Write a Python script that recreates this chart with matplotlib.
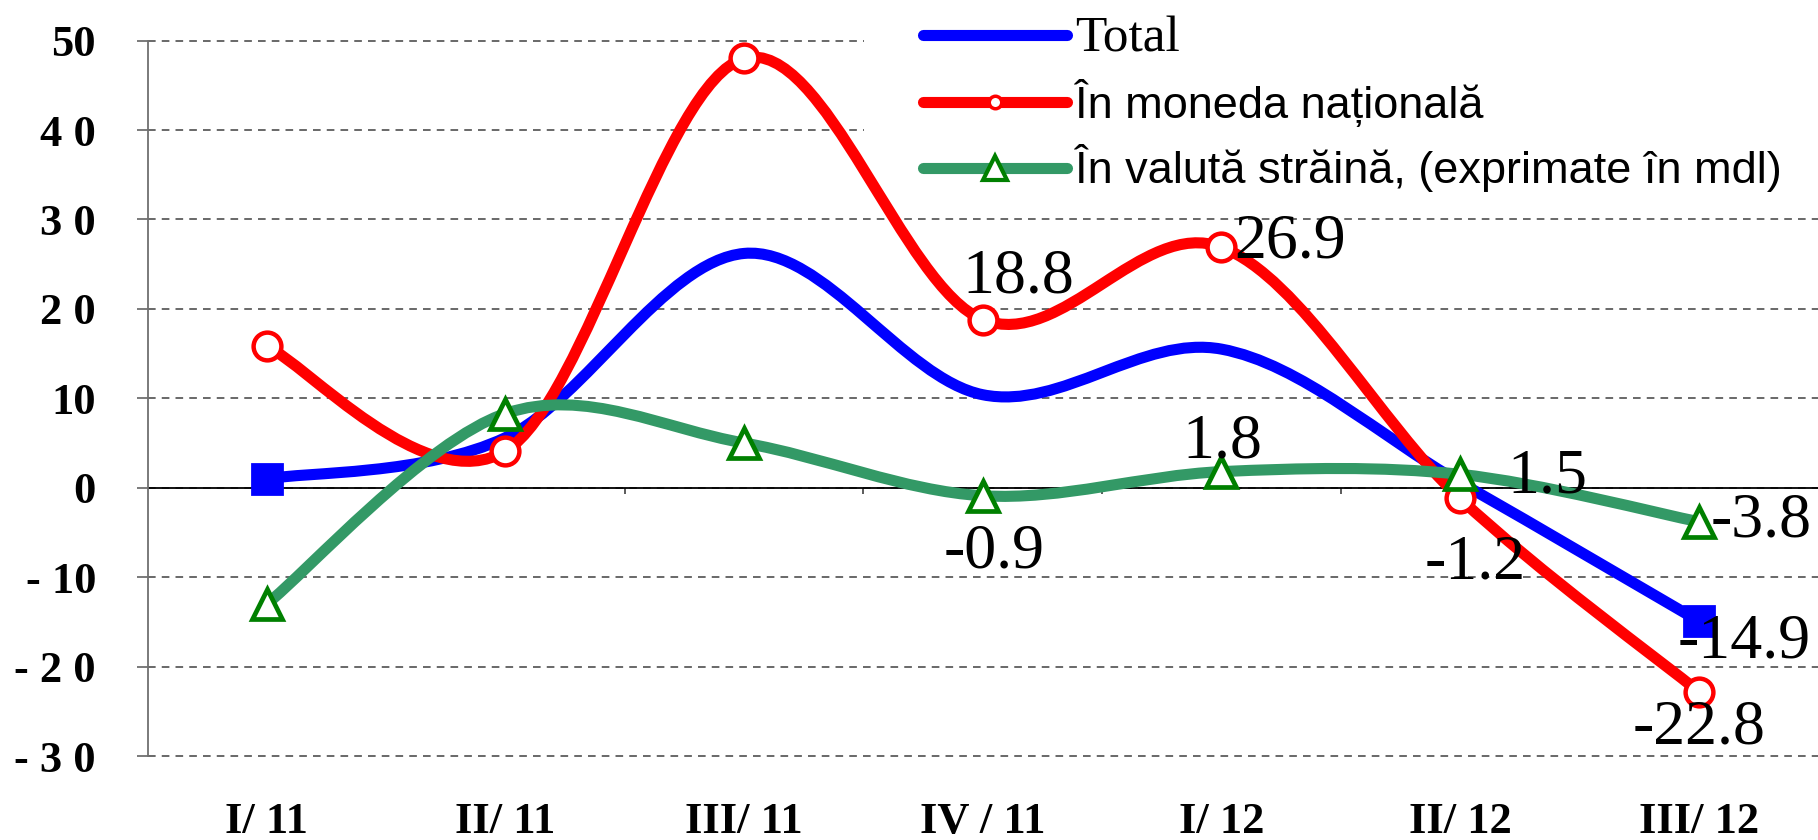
import numpy as np
import matplotlib
matplotlib.use("Agg")
import matplotlib.pyplot as plt
from matplotlib.path import Path
from matplotlib.patches import PathPatch, Rectangle
from matplotlib.lines import Line2D
from matplotlib.font_manager import FontProperties

# ---------------- data ----------------
quarters = ["I/ 11", "II/ 11", "III/ 11", "IV / 11", "I/ 12", "II/ 12", "III/ 12"]
total = [1.0, 5.6, 26.2, 10.4, 15.5, 0.6, -14.9]
national = [15.8, 4.1, 48.0, 18.8, 26.9, -1.2, -22.8]
foreign = [-13.0, 8.3, 5.0, -0.9, 1.8, 1.5, -3.8]
series_names = ["Total", "În moneda națională", "În valută străină, (exprimate în mdl)"]
ytick_values = [-30, -20, -10, 0, 10, 20, 30, 40, 50]
ytick_labels = ["- 3 0", "- 2 0", "- 10", "0", "10", "2 0", "3 0", "4 0", "50"]

BLUE = "#0000FF"
RED = "#FF0000"
SEA = "#339966"
DKGREEN = "#008000"

plt.rcParams["font.family"] = ["Liberation Serif", "DejaVu Serif"]

W, H = 1818, 840
fig = plt.figure(figsize=(W / 100, H / 100), dpi=100)
left = 147.5 / W
bottom = 1 - 756 / H
top = 1 - 40.6 / H
ax = fig.add_axes([left, bottom, 1 - left, top - bottom])

x = np.arange(len(quarters))


def smooth_path(xs, ys):
    """Excel-style smoothed line: Bezier segments with Catmull-Rom control points."""
    P = np.column_stack([xs, ys]).astype(float)
    n = len(P)
    verts = [P[0]]
    codes = [Path.MOVETO]
    for i in range(n - 1):
        p0 = P[max(i - 1, 0)]
        p1 = P[i]
        p2 = P[i + 1]
        p3 = P[min(i + 2, n - 1)]
        c1 = p1 + (p2 - p0) / 6.0
        c2 = p2 - (p3 - p1) / 6.0
        verts += [c1, c2, p2]
        codes += [Path.CURVE4] * 3
    return Path(verts, codes)


LW = 8
for vals, col, z in [(total, BLUE, 3), (national, RED, 4), (foreign, SEA, 5)]:
    patch = PathPatch(smooth_path(x, vals), facecolor="none", edgecolor=col,
                      lw=LW, capstyle="round", joinstyle="round", zorder=z)
    ax.add_patch(patch)

# markers
ax.plot(x, total, linestyle="none", marker="s", ms=22, mfc=BLUE, mec=BLUE,
        mew=2, markevery=[0, len(x) - 1], zorder=3.5)
ax.plot(x, national, linestyle="none", marker="o", ms=20, mfc="white", mec=RED,
        mew=3.2, zorder=4.5)
ax.plot(x, foreign, linestyle="none", marker="^", ms=22, mfc="white", mec=DKGREEN,
        mew=3.4, zorder=5.5)

# data labels: (series values, index, ha, dx px, dy px)
label_specs = [
    (national, 3, "center", 35, 27.6),
    (national, 4, "left", 13, -10),
    (foreign, 4, "center", 1, 14.6),
    (foreign, 3, "center", 11, -72),
    (foreign, 5, "left", 47, -17.7),
    (national, 5, "center", 15, -80),
    (foreign, 6, "left", 12, -15),
    (total, 6, "center", 46, -37),
    (national, 6, "center", 0, -51.5),
]
for vals, i, ha, dx, dy in label_specs:
    ax.annotate(f"{vals[i]:.1f}", xy=(x[i], vals[i]), xytext=(dx, dy),
                textcoords="offset pixels", ha=ha, va="baseline",
                fontsize=46, fontfamily="Liberation Serif", color="black",
                zorder=10)

# axes
ax.set_xlim(-0.5, 6.5)
ax.set_ylim(-30, 50)
ax.set_yticks(ytick_values)
ax.set_yticklabels(ytick_labels, fontweight="bold", fontsize=32)
ax.set_xticks(x)
ax.set_xticklabels(quarters, fontweight="bold", fontsize=32)
ax.tick_params(axis="x", length=0, pad=33)
ax.tick_params(axis="y", length=8, width=1.3, color="#707070", pad=29)
for s in ["top", "right", "bottom"]:
    ax.spines[s].set_visible(False)
ax.spines["left"].set_color("#707070")
ax.spines["left"].set_linewidth(1.3)

ax.grid(axis="y", color="#404040", linestyle=(0, (5, 4)), linewidth=1.1)
ax.grid(axis="x", visible=False)
for gl in ax.yaxis.get_gridlines():
    gl.set_clip_on(False)
ax.set_axisbelow(True)
ax.axhline(0, color="black", lw=1.3, zorder=2)

# small ticks at category boundaries on the zero line
sec = ax.secondary_xaxis(30 / 80)
sec.set_xticks(np.arange(0.5, 6.0, 1.0))
sec.set_xticklabels([])
sec.tick_params(axis="x", length=4, width=1.2, color="#404040", direction="out")
sec.spines["bottom"].set_visible(False)

# white legend background (hides gridlines behind the legend, as in the original)
ax.add_patch(Rectangle((864 / W, 1 - 200 / H), 1 - 864 / W, 200 / H,
                       transform=fig.transFigure, facecolor="white",
                       edgecolor="none", zorder=1, clip_on=False))

# legend
handles = [
    Line2D([], [], color=BLUE, lw=8, solid_capstyle="round"),
    Line2D([], [], color=RED, lw=8, solid_capstyle="round", marker="o", ms=9,
           mfc="white", mec=RED, mew=2.5),
    Line2D([], [], color=SEA, lw=8, solid_capstyle="round", marker="^", ms=17,
           mfc="white", mec=DKGREEN, mew=3),
]
leg = ax.legend(handles, series_names, loc="upper left",
                bbox_to_anchor=(923 / W, 1 - 15.5 / H), bbox_transform=fig.transFigure,
                frameon=False, prop=FontProperties(family="Liberation Sans", size=32.5),
                handlelength=3.2, handletextpad=0.16, labelspacing=0.38,
                borderpad=0, borderaxespad=0, numpoints=1)
leg.get_texts()[0].set_fontproperties(FontProperties(family="Liberation Serif", size=37))
leg.set_zorder(20)

fig.savefig("out.png", dpi=100)
